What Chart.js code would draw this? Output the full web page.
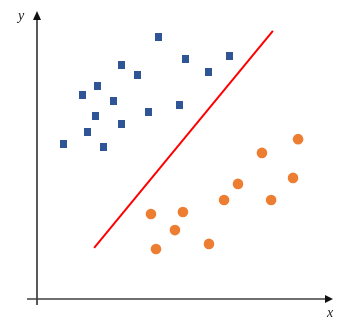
<!DOCTYPE html>
<html>
<head>
<meta charset="utf-8">
<script src="https://cdn.jsdelivr.net/npm/chart.js@4"></script>
<style>
  html, body { margin: 0; padding: 0; background: #fff; }
  #wrap { width: 353px; height: 328px; }
</style>
</head>
<body>
<div id="wrap"><canvas id="chart"></canvas></div>
<script>
// class A (blue squares)
const blueX = [0.88, 1.55, 1.72, 1.99, 2.06, 2.26, 2.57, 2.84, 2.84, 3.38, 3.78, 4.09, 4.83, 5.00, 5.78, 6.49];
const blueY = [5.40, 7.11, 5.82, 6.38, 7.42, 5.30, 6.90, 8.15, 6.10, 7.80, 6.52, 9.13, 6.76, 8.36, 7.91, 8.47];
// class B (orange circles)
const orangeX = [3.85, 4.02, 4.66, 4.93, 5.81, 6.32, 6.79, 7.60, 7.91, 8.65, 8.82];
const orangeY = [2.96, 1.74, 2.40, 3.03, 1.92, 3.45, 4.01, 5.09, 3.45, 4.22, 5.57];
// separating line
const lineX = [1.93, 7.97];
const lineY = [1.78, 9.34];

const toPoints = (xs, ys) => xs.map((x, i) => ({ x: x, y: ys[i] }));

// little blue rectangle marker, a bit taller than wide
const sq = document.createElement('canvas');
sq.width = 7; sq.height = 8;
const sctx = sq.getContext('2d');
sctx.fillStyle = '#2F5597';
sctx.fillRect(0, 0, 7, 8);

// axes with arrow heads plus the x / y labels
const axesPlugin = {
  id: 'axes',
  beforeDatasetsDraw(chart) {
    const { ctx, chartArea: a } = chart;
    ctx.save();
    ctx.strokeStyle = '#222';
    ctx.fillStyle = '#111';
    ctx.lineWidth = 1.5;
    // y axis
    ctx.beginPath();
    ctx.moveTo(a.left, a.bottom + 6);
    ctx.lineTo(a.left, a.top + 6);
    ctx.stroke();
    ctx.beginPath();
    ctx.moveTo(a.left, a.top - 1);
    ctx.lineTo(a.left - 4, a.top + 8);
    ctx.lineTo(a.left + 4, a.top + 8);
    ctx.closePath();
    ctx.fill();
    // x axis
    ctx.strokeStyle = '#404040';
    ctx.beginPath();
    ctx.moveTo(a.left - 10, a.bottom);
    ctx.lineTo(a.right - 6, a.bottom);
    ctx.stroke();
    ctx.beginPath();
    ctx.moveTo(a.right, a.bottom);
    ctx.lineTo(a.right - 8, a.bottom - 4);
    ctx.lineTo(a.right - 8, a.bottom + 4);
    ctx.closePath();
    ctx.fill();
    // labels
    ctx.fillStyle = '#222';
    ctx.font = 'italic 14px "Liberation Serif", "DejaVu Serif", serif';
    ctx.textAlign = 'center';
    ctx.textBaseline = 'middle';
    ctx.fillText('y', a.left - 16, a.top + 4);
    ctx.fillText('x', a.right - 3, a.bottom + 14);
    ctx.restore();
  }
};

new Chart('chart', {
  type: 'scatter',
  data: {
    datasets: [{
      label: 'A',
      data: toPoints(blueX, blueY),
      pointStyle: sq,
      pointRadius: 4,
      backgroundColor: '#2F5597'
    }, {
      label: 'B',
      data: toPoints(orangeX, orangeY),
      pointStyle: 'circle',
      pointRadius: 5.3,
      borderWidth: 0,
      backgroundColor: '#ED7D31',
      borderColor: '#ED7D31'
    }, {
      label: 'boundary',
      type: 'line',
      data: toPoints(lineX, lineY),
      borderColor: '#FF0000',
      borderWidth: 2,
      pointRadius: 0,
      fill: false
    }]
  },
  options: {
    responsive: true,
    maintainAspectRatio: false,
    animation: false,
    layout: { padding: { left: 37, right: 20, top: 12, bottom: 29 } },
    scales: {
      x: { type: 'linear', min: 0, max: 10, display: false },
      y: { type: 'linear', min: 0, max: 10, display: false }
    },
    plugins: {
      legend: { display: false },
      tooltip: { enabled: false }
    }
  },
  plugins: [axesPlugin]
});
</script>
</body>
</html>
